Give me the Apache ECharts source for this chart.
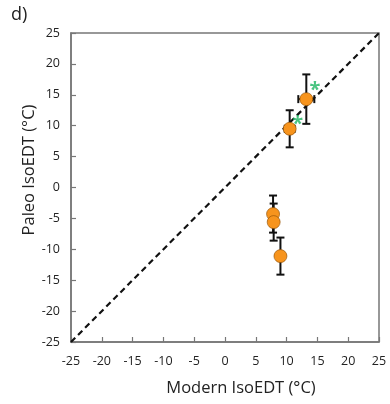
<!DOCTYPE html>
<html>
<head>
<meta charset="utf-8">
<script src="https://cdn.jsdelivr.net/npm/echarts@6/dist/echarts.min.js"></script>
<style>
  html, body { margin: 0; padding: 0; background: #fff; }
  #chart { width: 390px; height: 404px; }
</style>
</head>
<body>
<div id="chart"></div>
<script>
// Modern vs paleo IsoEDT estimates (°C) with uncertainties
const modern    = [13.2, 10.5, 7.8, 7.9, 9.0];
const paleo     = [14.3,  9.5, -4.3, -5.6, -11.1];
const modernErr = [1.3,   0.8, 0.4, 0.4, 0.3];
const paleoErr  = [4.0,   3.0, 3.0, 3.0, 3.0];
// significance markers
const starX = [14.6, 11.8];
const starY = [16.3, 10.9];
// 1:1 reference line
const oneToOne = [[-25, -25], [25, 25]];
const axisMin = -25, axisMax = 25, axisStep = 5;
const xTitle = 'Modern IsoEDT (°C)';
const yTitle = 'Paleo IsoEDT (°C)';

const font = 'Open Sans';
const chart = echarts.init(document.getElementById('chart'));

const errData = modern.map((m, i) => [m, paleo[i], modernErr[i], paleoErr[i]]);

function renderErr(params, api) {
  const x = api.value(0), y = api.value(1), ex = api.value(2), ey = api.value(3);
  const c = api.coord([x, y]);
  const top = api.coord([x, y + ey]);
  const bot = api.coord([x, y - ey]);
  const lft = api.coord([x - ex, y]);
  const rgt = api.coord([x + ex, y]);
  const cap = 4;
  const style = { stroke: '#111', lineWidth: 2 };
  const children = [
    { type: 'line', shape: { x1: c[0], y1: top[1], x2: c[0], y2: bot[1] }, style },
    { type: 'line', shape: { x1: c[0] - cap, y1: top[1], x2: c[0] + cap, y2: top[1] }, style },
    { type: 'line', shape: { x1: c[0] - cap, y1: bot[1], x2: c[0] + cap, y2: bot[1] }, style },
    { type: 'line', shape: { x1: lft[0], y1: c[1], x2: rgt[0], y2: c[1] }, style },
    { type: 'line', shape: { x1: lft[0], y1: c[1] - cap, x2: lft[0], y2: c[1] + cap }, style },
    { type: 'line', shape: { x1: rgt[0], y1: c[1] - cap, x2: rgt[0], y2: c[1] + cap }, style }
  ];
  return { type: 'group', children };
}

const axisCommon = {
  min: axisMin, max: axisMax, interval: axisStep,
  axisLine: { show: true, onZero: false, lineStyle: { color: '#777', width: 1.5 } },
  axisTick: { show: true, inside: true, length: 5, lineStyle: { color: '#777', width: 1.2 } },
  splitLine: { show: false },
  axisLabel: { color: '#222', fontFamily: font, fontSize: 12.5 }
};

chart.setOption({
  animation: false,
  title: {
    text: 'd)', left: 6, top: 1,
    textStyle: { color: '#222', fontFamily: font, fontSize: 18, fontWeight: 'normal' }
  },
  grid: { left: 71, right: 11, top: 33, bottom: 62, show: true, borderColor: '#777', borderWidth: 1.5 },
  xAxis: Object.assign({}, axisCommon, {
    type: 'value',
    axisLabel: Object.assign({}, axisCommon.axisLabel, { margin: 13 })
  }),
  yAxis: Object.assign({}, axisCommon, {
    type: 'value',
    axisLabel: Object.assign({}, axisCommon.axisLabel, { margin: 11 })
  }),
  graphic: [
    {
      type: 'text', x: 241, y: 388,
      style: { text: xTitle, font: '16.5px "Open Sans"', fill: '#222', align: 'center', verticalAlign: 'middle' }
    },
    {
      type: 'text', x: 29, y: 170, rotation: Math.PI / 2,
      style: { text: yTitle, font: '16.5px "Open Sans"', fill: '#222', align: 'center', verticalAlign: 'middle' }
    }
  ],
  series: [
    {
      type: 'line', data: oneToOne, symbol: 'none',
      lineStyle: { color: '#111', width: 2.2, type: [6, 4] }, z: 1
    },
    {
      type: 'custom', renderItem: renderErr, data: errData, z: 2,
      encode: { x: 0, y: 1 }
    },
    {
      type: 'scatter', data: modern.map((m, i) => [m, paleo[i]]),
      symbol: 'circle', symbolSize: 13,
      itemStyle: { color: '#F7941D', borderColor: '#8a4a00', borderWidth: 0.6, opacity: 1 }, z: 3
    },
    {
      type: 'scatter', data: starX.map((x, i) => [x, starY[i]]),
      symbolSize: 0,
      label: {
        show: true, position: 'inside', formatter: '*',
        color: '#1DB562', fontSize: 20, fontWeight: 'bold', fontFamily: font, offset: [0, 4]
      }, z: 4
    }
  ]
});
</script>
</body>
</html>
